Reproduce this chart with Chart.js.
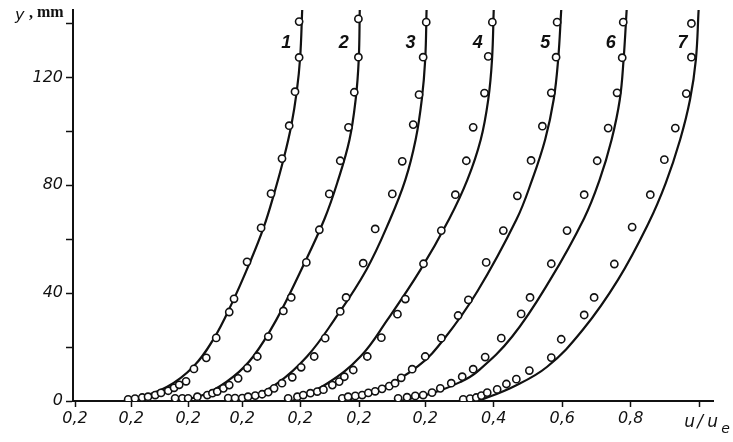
<!DOCTYPE html>
<html>
<head>
<meta charset="utf-8">
<script src="https://cdn.jsdelivr.net/npm/chart.js@4.4.1/dist/chart.umd.min.js"></script>
<style>
  html, body { margin: 0; padding: 0; background: #fff; }
  #wrap { width: 733px; height: 442px; }
</style>
</head>
<body>
<div id="wrap"><canvas id="profileChart" width="733" height="442"></canvas></div>
<script>
// Profile numbers
const curveNames = ['1', '2', '3', '4', '5', '6', '7'];

// Each profile is slid left along the u/u_e axis by this amount
const profileShift = [1.022, 0.858, 0.692, 0.534, 0.365, 0.193, 0];

// Measured points, u/u_e
const pointsU = [
    [0.355, 0.375, 0.396, 0.413, 0.434, 0.451, 0.472, 0.489, 0.504, 0.524, 0.547, 0.583, 0.612, 0.650, 0.664, 0.702, 0.743, 0.772, 0.804, 0.825, 0.842, 0.854, 0.854],
    [0.328, 0.349, 0.366, 0.393, 0.422, 0.437, 0.451, 0.469, 0.486, 0.512, 0.539, 0.568, 0.600, 0.644, 0.667, 0.711, 0.749, 0.778, 0.810, 0.834, 0.851, 0.863, 0.863],
    [0.317, 0.337, 0.358, 0.375, 0.396, 0.416, 0.434, 0.451, 0.474, 0.504, 0.530, 0.568, 0.600, 0.644, 0.661, 0.711, 0.746, 0.796, 0.825, 0.857, 0.874, 0.886, 0.895],
    [0.334, 0.361, 0.378, 0.399, 0.419, 0.437, 0.463, 0.483, 0.498, 0.524, 0.565, 0.606, 0.653, 0.676, 0.729, 0.781, 0.822, 0.854, 0.874, 0.907, 0.918, 0.930],
    [0.323, 0.340, 0.361, 0.381, 0.399, 0.419, 0.439, 0.460, 0.477, 0.495, 0.527, 0.565, 0.612, 0.661, 0.691, 0.743, 0.793, 0.834, 0.874, 0.907, 0.933, 0.947, 0.950],
    [0.314, 0.340, 0.364, 0.387, 0.413, 0.437, 0.469, 0.501, 0.533, 0.568, 0.615, 0.673, 0.699, 0.761, 0.807, 0.857, 0.895, 0.927, 0.953, 0.968, 0.971],
    [0.311, 0.331, 0.349, 0.364, 0.381, 0.410, 0.437, 0.466, 0.504, 0.568, 0.597, 0.664, 0.693, 0.752, 0.804, 0.857, 0.898, 0.930, 0.962, 0.977, 0.977]
];

// Measured points, y in mm
const pointsY = [
    [0.6, 0.9, 1.3, 1.6, 2.2, 3.0, 3.8, 4.9, 6.0, 7.3, 11.9, 16.0, 23.4, 33.0, 37.9, 51.6, 64.2, 76.9, 89.9, 102.1, 114.7, 127.4, 140.7],
    [1.0, 1.0, 1.0, 1.6, 2.2, 2.9, 3.5, 4.7, 5.9, 8.4, 12.2, 16.5, 23.9, 33.4, 38.4, 51.4, 63.5, 76.8, 89.1, 101.5, 114.5, 127.5, 141.7],
    [1.1, 1.1, 1.1, 1.6, 2.0, 2.5, 3.3, 4.7, 6.6, 8.8, 12.5, 16.5, 23.3, 33.2, 38.4, 51.1, 63.8, 76.8, 88.9, 102.5, 113.6, 127.5, 140.5],
    [1.0, 1.6, 2.2, 2.9, 3.5, 4.2, 5.9, 7.2, 9.0, 11.5, 16.5, 23.5, 32.2, 37.8, 50.9, 63.2, 76.5, 89.1, 101.5, 114.2, 127.8, 140.5],
    [1.0, 1.6, 1.9, 2.2, 3.0, 3.6, 4.5, 5.5, 6.6, 8.6, 11.8, 16.5, 23.3, 31.7, 37.5, 51.4, 63.2, 76.1, 89.2, 101.9, 114.3, 127.5, 140.5],
    [1.0, 1.4, 1.9, 2.2, 3.1, 4.7, 6.6, 9.0, 11.8, 16.3, 23.3, 32.3, 38.4, 50.9, 63.2, 76.5, 89.1, 101.2, 114.3, 127.3, 140.5],
    [0.6, 0.9, 1.3, 2.0, 3.1, 4.3, 6.3, 8.1, 11.3, 16.1, 22.9, 31.9, 38.4, 50.8, 64.5, 76.5, 89.5, 101.2, 114.0, 127.5, 140.0]
];

// Faired curves, u/u_e
const curveU = [
    [0.361, 0.469, 0.545, 0.603, 0.658, 0.711, 0.750, 0.781, 0.809, 0.831, 0.847, 0.857, 0.863],
    [0.343, 0.422, 0.498, 0.556, 0.623, 0.696, 0.764, 0.804, 0.837, 0.855, 0.864, 0.867],
    [0.366, 0.460, 0.547, 0.626, 0.720, 0.790, 0.834, 0.864, 0.882, 0.892, 0.896],
    [0.346, 0.448, 0.545, 0.623, 0.720, 0.804, 0.857, 0.896, 0.918, 0.929, 0.934],
    [0.331, 0.442, 0.545, 0.620, 0.717, 0.831, 0.877, 0.915, 0.940, 0.953, 0.962],
    [0.320, 0.416, 0.495, 0.545, 0.647, 0.758, 0.857, 0.902, 0.937, 0.961, 0.972, 0.981],
    [0.355, 0.457, 0.556, 0.660, 0.763, 0.852, 0.902, 0.944, 0.973, 0.990, 0.998]
];

// Faired curves, y in mm
const curveY = [
    [0, 5.3, 12.7, 22.7, 36.3, 51.6, 64.2, 76.9, 89.9, 102.1, 114.7, 127.4, 145],
    [0, 2.9, 9.0, 16.5, 30, 48.6, 67.5, 82, 96.9, 111.8, 126.6, 145],
    [0, 6.5, 16.5, 30, 48.6, 67.5, 82, 96.9, 111.8, 126.6, 145],
    [0, 6.5, 16.5, 30, 48.6, 67.5, 82, 96.9, 111.8, 126.6, 145],
    [0, 5, 13, 23, 40.6, 67.2, 82, 96.9, 111.8, 126.6, 145],
    [0, 3, 7, 10.9, 23.9, 45, 67.8, 82, 96.9, 111.8, 126.6, 145],
    [0, 5.3, 12.7, 26.4, 45, 66, 80.8, 96.9, 111.8, 126.6, 145]
];

// Axis ticks
const xTickValues = [-0.822, -0.658, -0.492, -0.334, -0.165, 0.007, 0.2, 0.4, 0.6, 0.8, 1.0];
const xTickLabels = ['0,2', '0,2', '0,2', '0,2', '0,2', '0,2', '0,2', '0,4', '0,6', '0,8', ''];
const yTickValues = [0, 20, 40, 60, 80, 100, 120, 140];
const yTickLabels = ['0', '', '40', '', '80', '', '120', ''];

// Height (mm) at which the profile numbers sit
const numberHeight = 133;

const ink = '#111';
const tickFont = { family: '"DejaVu Sans"', style: 'italic', size: 16 };

const datasets = [];
curveNames.forEach((name, i) => {
    datasets.push({
        label: 'Curve ' + name,
        data: curveU[i].map((u, j) => ({ x: u - profileShift[i], y: curveY[i][j] })),
        showLine: true,
        tension: 0.4,
        borderColor: ink,
        borderWidth: 2.2,
        pointRadius: 0,
        fill: false,
        order: 1
    });
    datasets.push({
        label: 'Points ' + name,
        data: pointsU[i].map((u, j) => ({ x: u - profileShift[i], y: pointsY[i][j] })),
        showLine: false,
        pointStyle: 'circle',
        pointRadius: 3.6,
        pointBorderWidth: 1.6,
        pointBackgroundColor: '#fff',
        pointBorderColor: ink,
        order: 0
    });
});

// Axis caption, u/u_e caption and profile numbers
const figureText = {
    id: 'figureText',
    afterDraw(chart) {
        const { ctx, scales: { x, y } } = chart;
        ctx.save();
        ctx.fillStyle = ink;
        ctx.textBaseline = 'alphabetic';

        ctx.textAlign = 'center';
        ctx.font = 'italic bold 18px "Liberation Sans"';
        curveNames.forEach((name, i) => {
            const top = curveU[i][curveU[i].length - 1] - profileShift[i];
            ctx.fillText(name, x.getPixelForValue(top) - 16, y.getPixelForValue(numberHeight) + 6);
        });

        ctx.textAlign = 'left';
        ctx.font = 'italic 16px "DejaVu Sans"';
        ctx.fillText('y', 15, 20);
        ctx.font = 'bold 16px "Liberation Serif"';
        ctx.fillText(',', 29, 18);
        ctx.fillText('mm', 37, 17);

        const unit = x.getPixelForValue(1.0);
        ctx.font = 'italic 17px "DejaVu Sans"';
        ctx.fillText('u', unit - 15, 427);
        ctx.fillText('/', unit - 2, 427);
        ctx.fillText('u', unit + 8, 427);
        ctx.font = 'italic 14px "DejaVu Sans"';
        ctx.fillText('e', unit + 22, 433);
        ctx.restore();
    }
};

new Chart(document.getElementById('profileChart'), {
    type: 'scatter',
    data: { datasets },
    plugins: [figureText],
    options: {
        responsive: false,
        animation: false,
        layout: { padding: { top: 10, right: 20, left: 0, bottom: 0 } },
        plugins: {
            legend: { display: false },
            tooltip: { enabled: false }
        },
        scales: {
            x: {
                type: 'linear',
                min: -0.828,
                max: 1.04,
                afterBuildTicks: (s) => { s.ticks = xTickValues.map((v) => ({ value: v })); },
                afterFit: (s) => { s.height = 41; s.paddingLeft = 0; s.paddingRight = 0; },
                border: { color: ink, width: 2 },
                grid: { drawOnChartArea: false, tickLength: 6, tickColor: ink, tickWidth: 1.5 },
                ticks: {
                    autoSkip: false,
                    maxRotation: 0,
                    padding: 2,
                    color: ink,
                    font: tickFont,
                    callback: (v) => xTickLabels[xTickValues.indexOf(v)]
                }
            },
            y: {
                type: 'linear',
                min: 0,
                max: 145,
                afterBuildTicks: (s) => { s.ticks = yTickValues.map((v) => ({ value: v })); },
                afterFit: (s) => { s.width = 73; s.paddingTop = 0; s.paddingBottom = 0; },
                border: { color: ink, width: 2 },
                grid: { drawOnChartArea: false, tickLength: 7, tickColor: ink, tickWidth: 1.5 },
                ticks: {
                    padding: 3,
                    color: ink,
                    font: tickFont,
                    callback: (v) => yTickLabels[yTickValues.indexOf(v)]
                }
            }
        }
    }
});
</script>
</body>
</html>
